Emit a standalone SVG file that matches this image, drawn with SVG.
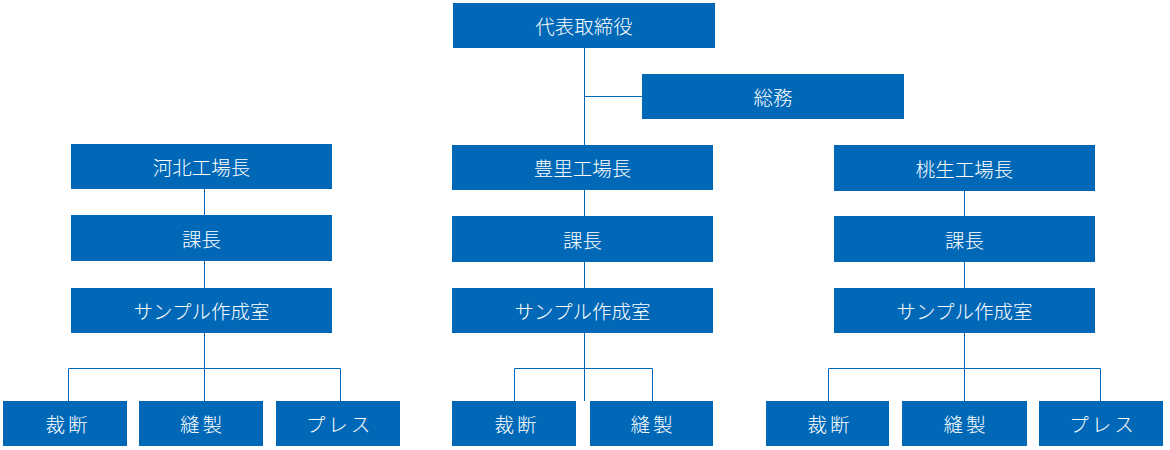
<svg xmlns="http://www.w3.org/2000/svg" width="1170" height="450" viewBox="0 0 1170 450">
<style>
.b{fill:#0068b7}
.t{fill:#fff;font-family:"Noto Sans CJK JP","Noto Sans",sans-serif;font-size:19.5px;font-weight:300;text-anchor:middle;dominant-baseline:central}
.s{letter-spacing:3px}
.c{fill:none;stroke:#0068b7;stroke-width:1}
</style>
<rect width="1170" height="450" fill="#fff"/>
<g id="connectors" class="c">
<path d="M584.5 48V145M584.5 96.5H642"/>
<path d="M204.5 189V401M68.5 401V368.5H340.5V401"/>
<path d="M584.5 190V401M514.5 401V368.5H652.5V401"/>
<path d="M964.5 191V401M828.5 401V368.5H1100.5V401"/>
</g>
<g id="ceo"><rect class="b" x="453" y="3" width="262" height="45"/><text class="t" x="584" y="25.5">代表取締役</text></g>
<g id="soumu"><rect class="b" x="642" y="74" width="262" height="45"/><text class="t" x="773" y="96.5">総務</text></g>
<g id="kahoku"><rect class="b" x="71" y="144" width="261" height="45"/><text class="t" x="201.5" y="166.5">河北工場長</text></g>
<g id="kahoku-kacho"><rect class="b" x="71" y="215" width="261" height="46"/><text class="t" x="201.5" y="238">課長</text></g>
<g id="kahoku-sample"><rect class="b" x="71" y="288" width="261" height="45"/><text class="t" x="201.5" y="310.5">サンプル作成室</text></g>
<g id="kahoku-saidan"><rect class="b" x="3" y="401" width="124" height="45"/><text class="t s" x="68" y="423.5">裁断</text></g>
<g id="kahoku-housei"><rect class="b" x="139" y="401" width="124" height="45"/><text class="t s" x="202.5" y="423.5">縫製</text></g>
<g id="kahoku-press"><rect class="b" x="276" y="401" width="124" height="45"/><text class="t s" x="339.5" y="423.5">プレス</text></g>
<g id="toyosato"><rect class="b" x="452" y="145" width="261" height="45"/><text class="t" x="582.5" y="167.5">豊里工場長</text></g>
<g id="toyosato-kacho"><rect class="b" x="452" y="216" width="261" height="46"/><text class="t" x="582.5" y="239">課長</text></g>
<g id="toyosato-sample"><rect class="b" x="452" y="288" width="261" height="45"/><text class="t" x="582.5" y="310.5">サンプル作成室</text></g>
<g id="toyosato-saidan"><rect class="b" x="452" y="401" width="124" height="45"/><text class="t s" x="517" y="423.5">裁断</text></g>
<g id="toyosato-housei"><rect class="b" x="590" y="401" width="123" height="45"/><text class="t s" x="653" y="423.5">縫製</text></g>
<g id="momoo"><rect class="b" x="834" y="145" width="261" height="46"/><text class="t" x="964.5" y="168">桃生工場長</text></g>
<g id="momoo-kacho"><rect class="b" x="834" y="216" width="261" height="46"/><text class="t" x="964.5" y="239">課長</text></g>
<g id="momoo-sample"><rect class="b" x="834" y="288" width="261" height="45"/><text class="t" x="964.5" y="310.5">サンプル作成室</text></g>
<g id="momoo-saidan"><rect class="b" x="766" y="401" width="123" height="45"/><text class="t s" x="830" y="423.5">裁断</text></g>
<g id="momoo-housei"><rect class="b" x="902" y="401" width="125" height="45"/><text class="t s" x="966" y="423.5">縫製</text></g>
<g id="momoo-press"><rect class="b" x="1039" y="401" width="124" height="45"/><text class="t s" x="1103" y="423.5">プレス</text></g>
</svg>
